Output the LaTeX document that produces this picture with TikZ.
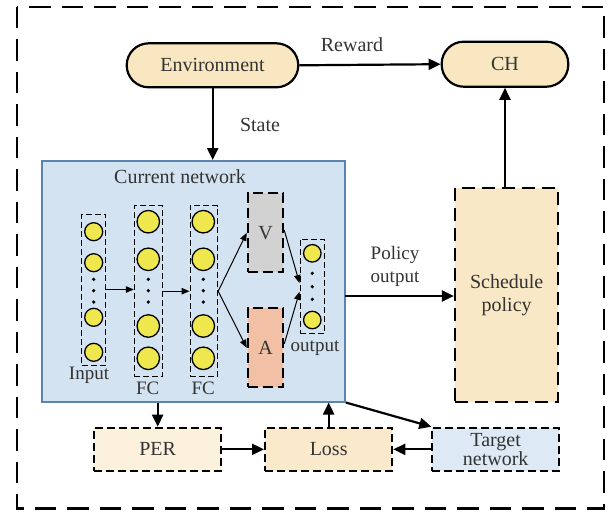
\documentclass[tikz,border=0pt]{standalone}
\usepackage{fontspec}
\setmainfont{Liberation Serif}[Ligatures=TeX]
\newfontfamily\serifface{Liberation Serif}
\usetikzlibrary{arrows.meta}
\definecolor{wheat}{HTML}{F9E7C1}
\definecolor{netblue}{HTML}{D3E3F1}
\definecolor{netedge}{HTML}{5A84AE}
\definecolor{perfill}{HTML}{FCF1DC}
\definecolor{lossfill}{HTML}{FAEACB}
\definecolor{tgtfill}{HTML}{DDE9F5}
\definecolor{schedfill}{HTML}{F9E8C5}
\definecolor{vgray}{HTML}{D2D2D2}
\definecolor{asalmon}{HTML}{F2C0A4}
\definecolor{nodey}{HTML}{EEE84E}
\definecolor{txt}{HTML}{333333}
\tikzset{
  every node/.style={font=\serifface},
  lbl/.style={text=txt, inner sep=0pt, font=\serifface\fontsize{20}{22}\selectfont, align=center},
  slbl/.style={text=txt, inner sep=0pt, font=\serifface\fontsize{19}{21}\selectfont, align=center},
  pill/.style={draw, line width=2.2pt, rounded corners=22pt, fill=wheat, inner sep=0pt, text=txt, font=\serifface\fontsize{20}{22}\selectfont},
  bigbox/.style={draw, dash pattern=on 13pt off 7pt, line width=2.2pt, inner sep=0pt, text=txt, font=\serifface\fontsize{20}{23}\selectfont, align=center},
  lowbox/.style={draw, dash pattern=on 8pt off 4pt, line width=2pt, inner sep=0pt, text=txt, align=center},
  colbox/.style={draw, dash pattern=on 6pt off 3pt, line width=1pt, inner sep=0pt},
  vabox/.style={draw, dash pattern=on 10pt off 5pt, line width=2pt, inner sep=0pt, text=txt, font=\serifface\fontsize{20}{22}\selectfont},
  neuron/.style={circle, draw, line width=1.3pt, fill=nodey, inner sep=0pt},
  ndot/.style={circle, fill=black, inner sep=0pt, minimum size=3.6pt},
  arr/.style={-{Triangle[length=12pt,width=11pt]}, line width=2.2pt},
  sarr/.style={-{Triangle[length=8pt,width=6.5pt]}, line width=1pt},
}
\begin{document}
\begin{tikzpicture}[x=1pt,y=-1pt]
\useasboundingbox (0,0) rectangle (613,512);
% outer dashed border
\draw[dash pattern=on 21.5pt off 11pt, line width=2.2pt] (16.7,6.7) rectangle (604.3,508.5);

% top pills
\node[pill, minimum width=171.6pt, minimum height=44pt] (env) at (212.5,65.3) {Environment};
\node[pill, minimum width=126.6pt, minimum height=45pt] (ch) at (505,64.2) {CH};

% current network
\node[draw=netedge, fill=netblue, line width=1.6pt, minimum width=303.3pt, minimum height=240.7pt, inner sep=0pt] (net) at (193.35,281.35) {};
\node[lbl] (netlbl) at (180,177) {Current network};

% columns
\node[colbox, minimum width=24pt, minimum height=151pt] (incol) at (93.7,289.5) {};
\node[colbox, minimum width=28.4pt, minimum height=171pt] (fcone) at (148.5,291.2) {};
\node[colbox, minimum width=27.7pt, minimum height=171pt] (fctwo) at (203.85,291.2) {};
\node[colbox, minimum width=24.3pt, minimum height=94.3pt] (outcol) at (312.15,286.15) {};

% neurons
\foreach \y [count=\i] in {231.7,262.7,317.3,352.3} {
  \node[neuron, minimum size=18pt] (in\i) at (93.7,\y) {};
}
\foreach \y [count=\i] in {221.7,259.3,326,358.3} {
  \node[neuron, minimum size=22.5pt] (fa\i) at (148.3,\y) {};
  \node[neuron, minimum size=22.5pt] (fb\i) at (203.3,\y) {};
}
\foreach \y [count=\i] in {279.3,290.7,302} {
  \node[ndot] (ind\i) at (93.7,\y) {};
  \node[ndot] (fad\i) at (148.3,\y) {};
  \node[ndot] (fbd\i) at (203.3,\y) {};
}
\node[neuron, minimum size=17.5pt] (o1) at (312.3,253.3) {};
\node[neuron, minimum size=17.5pt] (o2) at (312.3,320) {};
\foreach \y [count=\i] in {273.3,286.7,299.3} {
  \node[ndot] (od\i) at (312.3,\y) {};
}

% V and A
\node[vabox, fill=vgray, minimum width=35.6pt, minimum height=79pt] (V) at (265.5,232.8) {V};
\node[vabox, fill=asalmon, minimum width=35.6pt, minimum height=79pt] (A) at (265.5,347.8) {A};

% labels
\node[slbl] (inlbl) at (89,375) {Input};
\node[slbl] (fc1lbl) at (147.7,388.3) {FC};
\node[slbl] (fc2lbl) at (203.3,388.3) {FC};
\node[slbl] (outlbl) at (315,347.7) {output};

% inner arrows
\draw[sarr] (incol.east) -- (incol.east -| fcone.west);
\draw[sarr] (fcone.east) -- (fctwo.west);
\draw[sarr] (fctwo.east) -- (V.west);
\draw[sarr] (fctwo.east) -- (A.west);
\draw[sarr] ([yshift=2.5pt]V.east) -- (outcol.166);
\draw[sarr] ([yshift=4pt]A.east) -- (outcol.204);

% schedule policy
\node[bigbox, fill=schedfill, minimum width=103.3pt, minimum height=213.4pt] (sched) at (506.65,295) {Schedule\\policy};

% bottom boxes
\node[lowbox, fill=perfill, minimum width=126.7pt, minimum height=43.3pt, font=\serifface\fontsize{20}{22}\selectfont] (per) at (157.65,449.35) {PER};
\node[lowbox, fill=lossfill, minimum width=127.3pt, minimum height=43.3pt, font=\serifface\fontsize{20}{22}\selectfont] (loss) at (328.65,449.35) {Loss};
\node[lowbox, fill=tgtfill, minimum width=126.7pt, minimum height=43.3pt, font=\serifface\fontsize{20}{18}\selectfont] (tgt) at (495.65,449.35) {Target\\network};

% text labels
\node[lbl] (rewardlbl) at (352,45) {Reward};
\node[lbl] (statelbl) at (260,125) {State};
\node[slbl, font=\serifface\fontsize{19}{23}\selectfont] (pollbl) at (395,266.5) {Policy\\output};

% connectors
\coordinate (stateend) at (212.7,160);
\coordinate (polstart) at (345,296);
\draw[arr] (env.east) -- (ch.west);
\draw[arr] (env.south -| stateend) -- (stateend);
\draw[arr] (sched.north -| ch.south) -- (ch.south);
\draw[arr] (polstart) -- (polstart -| sched.west);
\draw[arr] (per.north |- net.south) -- (per.north);
\draw[arr] (loss.north) -- (loss.north |- net.south);
\draw[arr] (net.south east) -- (tgt.north west);
\draw[arr] (per.east) -- (loss.west);
\draw[arr] (tgt.west) -- (loss.east);
\end{tikzpicture}
\end{document}
